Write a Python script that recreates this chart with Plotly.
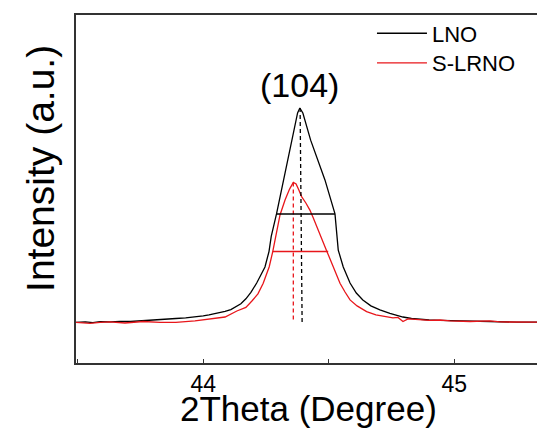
import plotly.graph_objects as go

# ---- data ----
lno_2theta = [43.493, 43.530, 43.560, 43.589, 43.630, 43.668, 43.710, 43.760, 43.800, 43.828,
              43.860, 43.891, 43.930, 43.967, 44.000, 44.023, 44.060, 44.087, 44.110, 44.130,
              44.150, 44.170, 44.190, 44.213, 44.230, 44.246, 44.262, 44.271, 44.292, 44.320,
              44.352, 44.376, 44.385, 44.397, 44.428, 44.485, 44.525, 44.538, 44.558, 44.585,
              44.610, 44.636, 44.668, 44.704, 44.744, 44.796, 44.830, 44.864, 44.900, 44.943,
              45.000, 45.063, 45.120, 45.182, 45.250, 45.330]
lno_int = [-0.002, 0.000, -0.003, 0.001, 0.000, 0.003, 0.002, 0.005, 0.007, 0.009,
           0.013, 0.016, 0.019, 0.023, 0.028, 0.033, 0.041, 0.049, 0.058, 0.070,
           0.085, 0.108, 0.138, 0.182, 0.217, 0.257, 0.329, 0.400, 0.505, 0.664,
           0.850, 0.977, 1.000, 0.977, 0.850, 0.664, 0.505, 0.336, 0.257, 0.182,
           0.135, 0.103, 0.075, 0.056, 0.040, 0.023, 0.016, 0.012, 0.009, 0.007,
           0.005, 0.002, 0.001, 0.000, -0.001, -0.001]

slrno_2theta = [43.493, 43.549, 43.589, 43.628, 43.688, 43.760, 43.828, 43.891, 43.967, 44.023,
                44.087, 44.134, 44.170, 44.194, 44.218, 44.239, 44.263, 44.277, 44.293, 44.306,
                44.326, 44.344, 44.359, 44.370, 44.381, 44.392, 44.409, 44.425, 44.437, 44.457,
                44.473, 44.492, 44.518, 44.545, 44.565, 44.585, 44.613, 44.651, 44.688, 44.731,
                44.756, 44.776, 44.796, 44.816, 44.864, 44.903, 44.943, 44.983, 45.063, 45.142,
                45.182, 45.262, 45.330]
slrno_int = [-0.002, -0.007, -0.002, 0.000, -0.005, 0.002, -0.002, -0.002, 0.005, 0.012,
             0.023, 0.051, 0.068, 0.098, 0.131, 0.181, 0.258, 0.329, 0.416, 0.500,
             0.570, 0.621, 0.652, 0.645, 0.617, 0.586, 0.556, 0.523, 0.491, 0.430,
             0.383, 0.332, 0.258, 0.181, 0.140, 0.103, 0.075, 0.048, 0.033, 0.026,
             0.019, 0.021, 0.002, 0.014, 0.009, 0.007, 0.009, 0.005, 0.002, 0.005,
             0.000, -0.002, -0.001]

# peak-position markers (dashed) and FWHM bars
lno_peak_x = [44.386, 44.394]
lno_peak_y = [1.000, 0.0]
slrno_peak_x = [44.359, 44.359]
slrno_peak_y = [0.652, 0.0]
lno_fwhm_x = [44.292, 44.525]
lno_fwhm_y = [0.505, 0.505]
slrno_fwhm_x = [44.277, 44.498]
slrno_fwhm_y = [0.329, 0.329]

tick_vals = [43.5, 44.0, 44.5, 45.0]
tick_text = ["", "44", "", "45"]

peak_label = "(104)"
peak_label_x = 44.385
peak_label_y = 1.107

x_title = "2Theta (Degree)"
y_title = "Intensity (a.u.)"

x_range = [43.493, 45.330]
y_range = [-0.192, 1.435]

BLACK = "#000000"
RED = "#e8161b"
FONT = "Liberation Sans, Arial, sans-serif"

fig = go.Figure()
fig.add_trace(go.Scatter(x=lno_2theta, y=lno_int, mode="lines", name="LNO",
                         legend="legend",
                         line=dict(color=BLACK, width=1.3)))
fig.add_trace(go.Scatter(x=slrno_2theta, y=slrno_int, mode="lines", name="S-LRNO",
                         legend="legend2",
                         line=dict(color=RED, width=1.3)))
fig.add_trace(go.Scatter(x=lno_peak_x, y=lno_peak_y, mode="lines", showlegend=False,
                         line=dict(color=BLACK, width=1.3, dash="4px,3px")))
fig.add_trace(go.Scatter(x=slrno_peak_x, y=slrno_peak_y, mode="lines", showlegend=False,
                         line=dict(color=RED, width=1.3, dash="4px,3px")))
fig.add_trace(go.Scatter(x=lno_fwhm_x, y=lno_fwhm_y, mode="lines", showlegend=False,
                         line=dict(color=BLACK, width=1.5)))
fig.add_trace(go.Scatter(x=slrno_fwhm_x, y=slrno_fwhm_y, mode="lines", showlegend=False,
                         line=dict(color=RED, width=1.5)))

fig.add_annotation(x=peak_label_x, y=peak_label_y, text=peak_label, showarrow=False,
                   font=dict(size=34, color=BLACK, family=FONT),
                   xanchor="center", yanchor="middle")
# axis titles
fig.add_annotation(xref="paper", yref="paper", x=0.5054, y=-0.131, text=x_title,
                   showarrow=False, xanchor="center", yanchor="middle",
                   font=dict(size=35, color=BLACK, family=FONT))
fig.add_annotation(xref="paper", yref="paper", x=-0.0785, y=0.560, text=y_title,
                   showarrow=False, xanchor="center", yanchor="middle", textangle=-90,
                   font=dict(size=39, color=BLACK, family=FONT))

legend_common = dict(xanchor="left", yanchor="middle",
                     font=dict(size=22, family=FONT, color=BLACK),
                     bgcolor="rgba(0,0,0,0)", borderwidth=0, itemwidth=50)

fig.update_layout(
    width=537, height=434,
    margin=dict(l=76, r=0, t=15, b=71),
    paper_bgcolor="white", plot_bgcolor="white",
    font=dict(family=FONT, color=BLACK),
    showlegend=True,
    legend=dict(x=0.642, y=0.9470, **legend_common),
    legend2=dict(x=0.642, y=0.862, **legend_common),
    xaxis=dict(range=x_range, showgrid=False, zeroline=False,
               showline=True, linecolor="#333333", linewidth=1.5, mirror=True,
               ticks="inside", ticklen=4, tickwidth=1.3, tickcolor="#333333",
               tickvals=tick_vals, ticktext=tick_text, ticklabelstandoff=0,
               tickfont=dict(size=23, family=FONT, color=BLACK)),
    yaxis=dict(range=y_range, showgrid=False, zeroline=False,
               showline=True, linecolor="#333333", linewidth=1.5, mirror=False,
               ticks="", showticklabels=False),
)

fig.write_html("out.html",
               config={"displayModeBar": False},
               post_script="document.body.style.margin='0';document.body.style.overflow='hidden';")
